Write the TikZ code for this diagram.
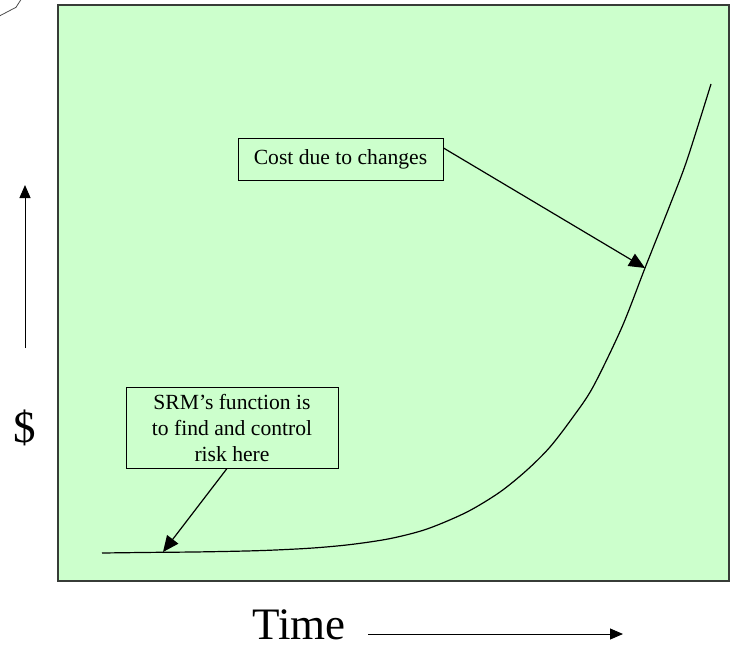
\documentclass[tikz,border=0pt]{standalone}
\usepackage{fontspec}
\setmainfont{Liberation Serif}
\usetikzlibrary{positioning,arrows.meta}
\definecolor{chartgreen}{RGB}{204,255,204}
\definecolor{frameedge}{RGB}{55,60,55}
\tikzstyle{callout} = [rectangle, draw=black, fill=chartgreen, line width=1pt, align=center, font=\fontsize{21.6}{26}\selectfont, inner sep=0pt]
\tikzstyle{arrow} = [line width=1.2pt, -{Triangle[length=16pt,width=14pt]}]
\tikzstyle{axisarrow} = [line width=1pt, -{Triangle[length=13pt,width=11pt]}]
\tikzstyle{axislabel} = [font=\fontsize{45}{45}\selectfont, inner sep=0pt, text depth=0pt]

\begin{document}
\begin{tikzpicture}[x=1pt,y=-1pt]
    \useasboundingbox (0,0) rectangle (733,645);

    % plot area
    \draw[frameedge, line width=1.3pt, fill=chartgreen] (58,5) rectangle (729,581);
    \draw[black!70, line width=0.8pt] (0,15.7) -- (16,7.3) -- (20.7,0);

    % Nodes
    \node (cost) [callout, minimum width=205pt, minimum height=42pt] at (340.5,159) {Cost due to changes};
    \node (srm) [callout, minimum width=212pt, minimum height=81pt] at (232,427.5) {SRM's function is\\to find and control\\risk here};
    \node (dollar) [axislabel] at (25,426) {\$};
    \node (time) [axislabel, anchor=base] at (299,639) {Time};

    \coordinate (costpt) at (645,268);
    \coordinate (srmpt) at (163,552);
    \coordinate (timestart) at (368,634);
    \coordinate (timeend) at (623,634);
    \coordinate (dollarstart) at (25,348);
    \coordinate (dollarend) at (25,185);

    % cost curve
    \draw[line width=1.2pt] plot[smooth, tension=0.5] coordinates {
        (102,553) (150,552.4) (200,551.9) (260,550.6) (310,548.2) (350,544.6)
        (390,538.6) (427,529) (467,512) (500,492) (527,470) (550,447) (573,417)
        (593,387) (622,327) (645,268) (670,205) (687,160) (711,84)};

    % Arrows
    \draw [arrow] (cost.east |- 0,148) -- (costpt);
    \draw [arrow] (srm.south -| 227,0) -- (srmpt);
    \draw [axisarrow] (timestart) -- (timeend);
    \draw [axisarrow] (dollarstart) -- (dollarend);
\end{tikzpicture}
\end{document}
